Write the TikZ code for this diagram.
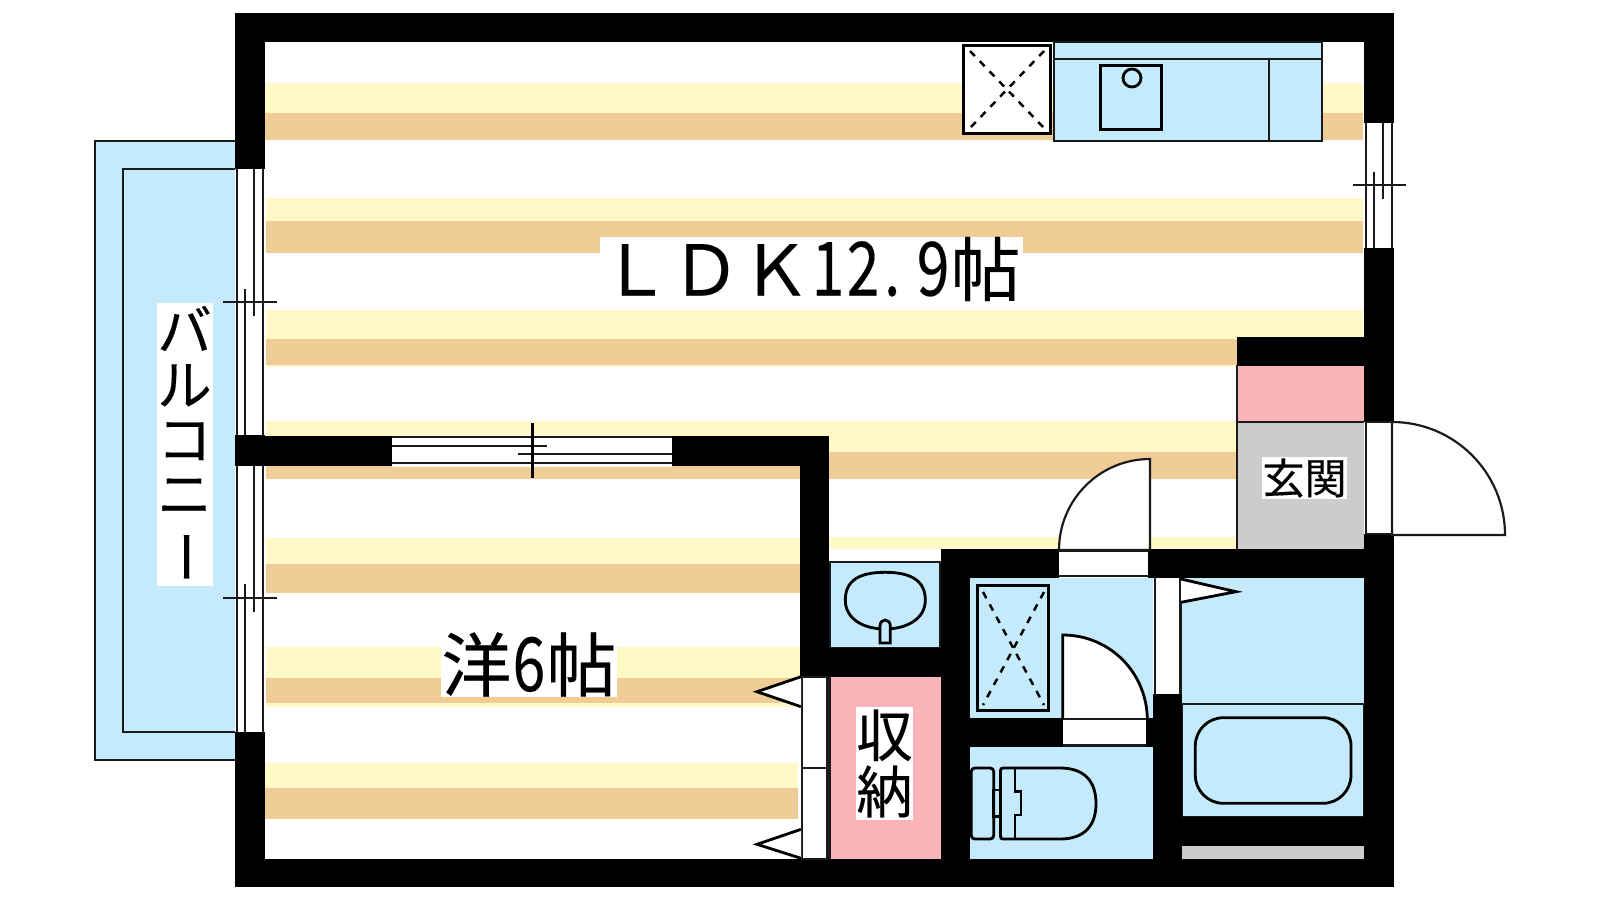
\documentclass[tikz,border=0pt]{standalone}
\usepackage{fontspec}
\setmainfont{Noto Sans CJK JP}
\newfontfamily\lab{Noto Sans CJK JP}[FakeBold=0.25]
\newcommand{\hw}[1]{\makebox[0.5em][c]{\scalebox{0.84}[1.07]{#1}}}
\definecolor{cBlue}{HTML}{C4EAFB}
\definecolor{cPink}{HTML}{FAB4B8}
\definecolor{cGray}{HTML}{CCCCCC}
\definecolor{cYel}{HTML}{FFF9C8}
\definecolor{cOra}{HTML}{F0CC96}
\definecolor{cLine}{HTML}{1A1A1A}
\tikzset{
  wall/.style={fill=black},
  yel/.style={fill=cYel},
  ora/.style={fill=cOra},
  ln/.style={draw=cLine,line width=0.62pt},
  thick ln/.style={draw=black,line width=0.8pt},
  dsh/.style={draw=black,line width=0.7pt,dash pattern=on 2pt off 2pt},
  label/.style={fill=white,inner sep=0pt,align=center,text=black}
}
\begin{document}
\begin{tikzpicture}[x=0.01cm,y=-0.01cm]
\useasboundingbox (0,0) rectangle (1600,900);
\fill[white] (0,0) rectangle (1600,900);
% floor stripes LDK
\fill[yel] (265,83.3) rectangle (1363,112.7);
\fill[ora] (265,112.7) rectangle (1363,140);
\fill[yel] (266,198) rectangle (1363,221);
\fill[ora] (266,221) rectangle (1363,252.7);
\fill[yel] (266,310) rectangle (1363,367);
\fill[ora] (266,339) rectangle (1238,365);
\fill[yel] (266,421) rectangle (1238,452);
\fill[ora] (266,465) rectangle (829,479);
\fill[ora] (829,452) rectangle (1238,479);
\fill[yel] (829,537.3) rectangle (1238,549);
% floor stripes western room
\fill[yel] (266,537.6) rectangle (800,564);
\fill[ora] (266,564) rectangle (800,592.7);
\fill[yel] (266,647.3) rectangle (800,706.7);
\fill[ora] (266,678) rectangle (800,702.7);
\fill[yel] (265,763.3) rectangle (798,788);
\fill[ora] (265,788) rectangle (798,819);
% balcony
\draw[ln,fill=cBlue] (235,140.6) -- (94.6,140.6) -- (94.6,760.3) -- (235,760.3);
\draw[ln] (235,168.6) -- (122.6,168.6) -- (122.6,732.3) -- (235,732.3);
% rooms
\fill[cPink] (1238,365.7) rectangle (1364,422);
\fill[cGray] (1238,422) rectangle (1364,549);
\draw[ln] (1237.3,365) -- (1237.3,549);
\draw[ln] (1237.3,422.3) -- (1364,422.3);
\fill[cBlue] (970,578) rectangle (1152.7,718);
\fill[cBlue] (970,747) rectangle (1153,859);
\fill[cBlue] (1182,578) rectangle (1364,817);
\draw[ln] (1182,704.3) -- (1364,704.3);
\draw[ln] (1182,704.3) rectangle (1364,816.7);
\fill[cGray] (1182,846) rectangle (1364,859);
\draw[ln,fill=cBlue] (830,561.7) rectangle (940,647.7);
\fill[cPink] (831,676.7) rectangle (941,859);
\draw[ln] (829.5,676.7) -- (829.5,859);
% walls
\fill[wall] (235,13.3) rectangle (1394,41.7);
\fill[wall] (235,859) rectangle (1394,887);
\fill[wall] (235,13.3) rectangle (265,169);
\fill[wall] (235,732) rectangle (265,887);
\fill[wall] (1364,13.3) rectangle (1394,123);
\fill[wall] (1364,248) rectangle (1394,422);
\fill[wall] (1364,534) rectangle (1394,887);
\fill[wall] (235,436) rectangle (392,465.5);
\fill[wall] (235,435) rectangle (265,465.7);
\fill[wall] (672,436) rectangle (829,465.5);
\fill[wall] (800,436) rectangle (829,676.7);
\fill[wall] (800,647.7) rectangle (941,676.7);
\fill[wall] (941,549) rectangle (970,887);
\fill[wall] (941,549) rectangle (1059,578);
\fill[wall] (1148,549) rectangle (1394,577.7);
\fill[wall] (1237,337) rectangle (1394,365.7);
\fill[wall] (970,718) rectangle (1063,747);
\fill[wall] (1146,718) rectangle (1153,747);
\fill[wall] (1153,694) rectangle (1182,887);
\fill[wall] (1182,816.7) rectangle (1364,846);
% kitchen
\draw[thick ln,fill=white] (963.8,45.5) rectangle (1050.2,133.5);
\draw[dsh] (970,51) -- (1044,128);
\draw[dsh] (1044,51) -- (970,128);
\draw[ln,fill=cBlue] (1054,41.7) rectangle (1322.2,140.6);
\draw[ln] (1054,58.7) -- (1322.2,58.7);
\draw[ln] (1268.7,58.7) -- (1268.7,140.6);
\draw[thick ln] (1100.3,65.5) rectangle (1161.7,129.7);
\draw[thick ln] (1132,78) circle (9);
% left windows
\fill[white] (237,169) rectangle (263,435);
\fill[white] (237,466) rectangle (263,732);
\foreach \xx in {237.3,262.7}{
  \draw[ln] (\xx,169) -- (\xx,435);
  \draw[ln] (\xx,466) -- (\xx,732);
}
\draw[ln] (254.3,169) -- (254.3,316);
\draw[ln] (245.3,289) -- (245.3,435);
\draw[ln] (223.3,302.3) -- (276.7,302.3);
\draw[ln] (254.3,466) -- (254.3,612.3);
\draw[ln] (245.3,584.3) -- (245.3,732);
\draw[ln] (223.3,598.3) -- (276.7,598.3);
% right window
\fill[white] (1366,123) rectangle (1392,248);
\foreach \xx in {1366,1391.7}{\draw[ln] (\xx,123) -- (\xx,248);}
\draw[ln] (1374.3,171.7) -- (1374.3,248);
\draw[ln] (1383.3,123) -- (1383.3,199.3);
\draw[ln] (1352.7,185.3) -- (1405.7,185.3);
% sliding door LDK / western
\fill[white] (392,435) rectangle (672,466.7);
\draw[ln] (392,437.3) -- (672,437.3);
\draw[ln] (392,463.3) -- (672,463.3);
\draw[ln] (392,446.3) -- (546.7,446.3);
\draw[ln] (518.3,454.3) -- (672,454.3);
\draw[thick ln] (532.3,423) -- (532.3,477.7);
% entrance door
\draw[ln,fill=white] (1366,422) rectangle (1391.7,534);
\draw[ln,fill=white] (1392,422) .. controls (1454.4,422) and (1505,472.6) .. (1505,535) -- (1392,535) -- cycle;
% LDK to wash door
\draw[ln,fill=white] (1150,459) .. controls (1099.7,459) and (1059,499.7) .. (1059,550) -- (1150,550) -- cycle;
\fill[white] (1059,551) rectangle (1148,576);
\draw[ln] (1059,550.7) -- (1148,550.7);
\draw[ln] (1059,576) -- (1148,576);
% washroom
\draw[thick ln] (977.6,585.3) rectangle (1048.7,710.7);
\draw[dsh] (983,592) -- (1044,705);
\draw[dsh] (1044,592) -- (983,705);
\draw[thick ln,fill=white] (1062.7,635) .. controls (1110,635) and (1147.3,673) .. (1147.3,720) -- (1062.7,720) -- cycle;
\fill[white] (1063,719.3) rectangle (1146,746.7);
\draw[ln] (1063,719.3) -- (1146,719.3);
\draw[ln] (1063,745.5) -- (1146,745.5);
% bath door
\fill[white] (1152.7,578) rectangle (1154,694);
\fill[white] (1155,578) rectangle (1180,694);
\draw[ln] (1155,578) -- (1155,694);
\draw[ln] (1180.5,578) -- (1180.5,694);
\draw[thick ln,fill=white] (1181,579) -- (1236,591.7) -- (1181,602.3);
% tub
\draw[thick ln,rounded corners=8pt] (1195.3,717.7) rectangle (1351,803.3);
% basin
\draw[thick ln] (845.3,600) .. controls (845.3,580) and (860,572.3) .. (885,572.3) .. controls (910,572.3) and (925.3,580) .. (925.3,600) .. controls (925.3,620) and (905,629) .. (885,629) .. controls (865,629) and (845.3,620) .. (845.3,600) -- cycle;
\draw[thick ln,fill=cBlue] (880,643) -- (880,626) .. controls (880,622) and (883,620) .. (885,620) .. controls (887.5,620) and (890.3,622) .. (890.3,626) -- (890.3,643) -- cycle;
% toilet
\draw[thick ln,rounded corners=1pt] (971.3,768) rectangle (993.7,839);
\draw[thick ln] (993.7,790) rectangle (1000.5,816.7);
\draw[thick ln] (1003,768) -- (1060,768) .. controls (1085,768) and (1096,782) .. (1096,803.5) .. controls (1096,825) and (1085,839) .. (1060,839) -- (1003,839) .. controls (1001,839) and (1000.5,838) .. (1000.5,836) -- (1000.5,771) .. controls (1000.5,769) and (1001,768) .. (1003,768) -- cycle;
\draw[thick ln] (1015,768) -- (1015,791.7) -- (1021,791.7) -- (1021,815) -- (1015,815) -- (1015,839);
% closet doors
\fill[white] (801.3,677) rectangle (827.3,859);
\draw[ln] (801.8,677) rectangle (827.3,859);
\draw[ln] (801.3,768.3) -- (827.3,768.3);
\draw[thick ln,fill=white] (801,676.7) -- (757,691.7) -- (801,706.7);
\draw[thick ln,fill=white] (801,829.3) -- (757,844.3) -- (801,858.3);
% labels
\node[label,minimum width=423pt*0.2845,minimum height=64pt*0.2845,font=\lab\fontsize{19.9}{20}\selectfont] (ldk) at (811.5,269) {\kern-0.5pt ＬＤＫ\hw{1}\hw{2}\hw{\kern-0.2em.}\hw{9}帖};
\node[label,minimum width=176pt*0.2845,minimum height=65pt*0.2845,font=\lab\fontsize{19.9}{20}\selectfont] (you) at (529,664.5) {洋\hw{6}帖};
\node[label,minimum width=57pt*0.2845,minimum height=113pt*0.2845,font=\lab\fontsize{16}{16}\selectfont] (closet) at (884.5,763.5) {収\\[0pt]納};
\node[label,minimum width=85pt*0.2845,minimum height=42pt*0.2845,font=\lab\fontsize{12}{12}\selectfont] (genkan) at (1304.5,478) {玄関};
\fill[white] (157,303) rectangle (213,586);
\node[inner sep=0pt,align=center,text=black,font=\lab\fontsize{15.5}{15.5}\selectfont] (balc) at (184.5,445) {バ\\ル\\コ\\ニ\\\makebox[0pt][c]{\kern-4pt\rotatebox[origin=c]{-90}{ー}}};
\end{tikzpicture}
\end{document}
